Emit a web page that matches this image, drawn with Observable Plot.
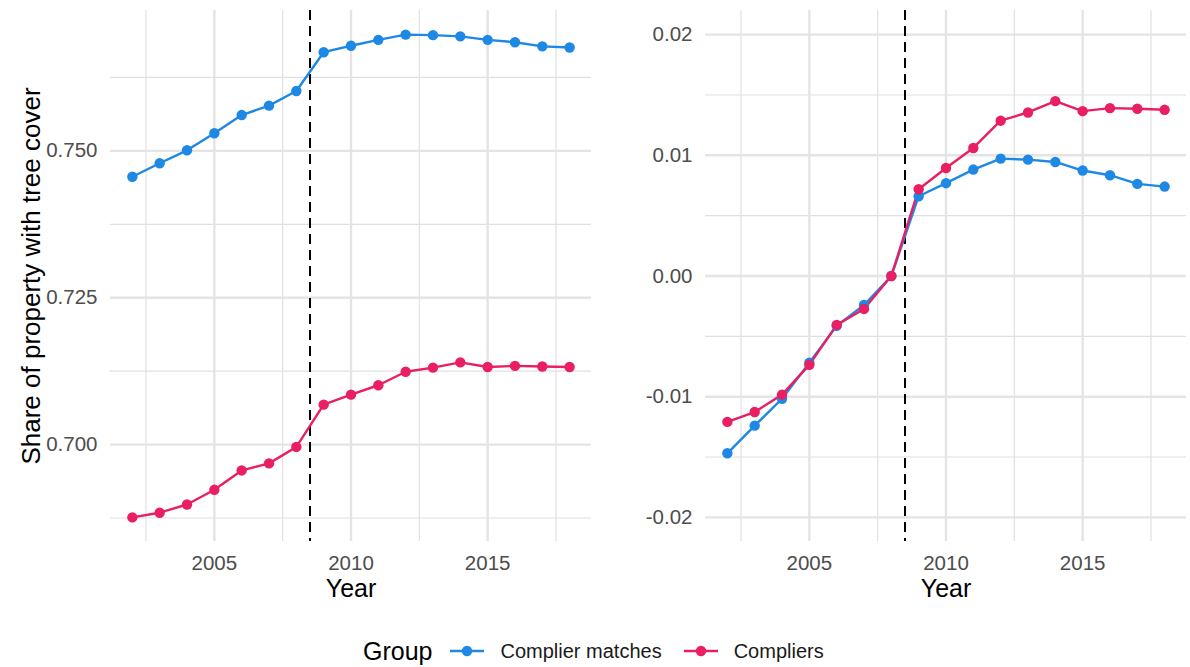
<!DOCTYPE html>
<html>
<head>
<meta charset="utf-8">
<script src="https://cdn.jsdelivr.net/npm/d3@7"></script>
<script src="https://cdn.jsdelivr.net/npm/@observablehq/plot@0.6"></script>
<style>
  body { margin: 0; background: #fff; font-family: "Liberation Sans", Arial, sans-serif; }
  #chart { position: relative; width: 1190px; height: 667px; background: #fff; }
  .panel { position: absolute; top: 0; }
  #legend { position: absolute; top: 632px; left: 363px; height: 38px; display: flex; align-items: center; white-space: nowrap; }
  #legend .title { font-size: 25px; color: #000; margin-right: 18px; }
  #legend .key { display: block; margin-right: 16px; }
  #legend .lab { font-size: 20px; color: #1a1a1a; margin-right: 22px; }
</style>
</head>
<body>
<div id="chart">
  <div id="left" class="panel" style="left:0"></div>
  <div id="right" class="panel" style="left:595px"></div>
  <div id="legend"></div>
</div>
<script>
// Years observed
const years = [2002, 2003, 2004, 2005, 2006, 2007, 2008, 2009, 2010, 2011, 2012, 2013, 2014, 2015, 2016, 2017, 2018];

// Groups and their colours
const groups = ["Complier matches", "Compliers"];
const groupColors = ["#1E88E5", "#E91E63"];

// Share of property with tree cover (levels)
const matchesShare   = [0.7456, 0.7479, 0.7501, 0.7530, 0.7561, 0.7577, 0.7602, 0.7668, 0.7679, 0.7689, 0.7698, 0.7697, 0.7695, 0.7689, 0.7685, 0.7678, 0.7676];
const compliersShare = [0.6876, 0.6884, 0.6898, 0.6923, 0.6956, 0.6968, 0.6996, 0.7068, 0.7085, 0.7101, 0.7124, 0.7131, 0.7140, 0.7132, 0.7134, 0.7133, 0.7132];

// Change relative to 2008
const matchesChange   = [-0.01469, -0.01240, -0.01017, -0.00719, -0.00413, -0.00240, 0.0, 0.00661, 0.00769, 0.00882, 0.00973, 0.00964, 0.00945, 0.00874, 0.00835, 0.00763, 0.00741];
const compliersChange = [-0.01209, -0.01127, -0.00983, -0.00736, -0.00405, -0.00273, 0.0, 0.00719, 0.00895, 0.01061, 0.01287, 0.01355, 0.01449, 0.01366, 0.01391, 0.01386, 0.01377];

// Program start marker
const treatmentYear = 2008.5;

// Grid / tick positions
const xMajor = [2005, 2010, 2015];
const xMinor = [2002.5, 2007.5, 2012.5, 2017.5];
const shareMajor = [0.700, 0.725, 0.750];
const shareMinor = [0.6875, 0.7125, 0.7375, 0.7625];
const changeMajor = [-0.02, -0.01, 0.00, 0.01, 0.02];
const changeMinor = [-0.015, -0.005, 0.005, 0.015];

function rows(a, b) {
  const out = [];
  years.forEach((yr, i) => out.push({year: yr, value: a[i], group: groups[0]}));
  years.forEach((yr, i) => out.push({year: yr, value: b[i], group: groups[1]}));
  return out;
}

function panel({data, yDomain, yMajor, yMinor, fmt, yLabel}) {
  const marks = [
    Plot.ruleY(yMinor, {stroke: "#e0e0e0", strokeWidth: 1.2}),
    Plot.ruleX(xMinor, {stroke: "#e0e0e0", strokeWidth: 1.2}),
    Plot.ruleY(yMajor, {stroke: "#e4e4e4", strokeWidth: 2.4}),
    Plot.ruleX(xMajor, {stroke: "#e4e4e4", strokeWidth: 2.4}),
    Plot.axisX({ticks: xMajor, tickSize: 0, tickPadding: 14, tickFormat: d => String(d), label: null, fill: "#4d4d4d"}),
    Plot.axisY({ticks: yMajor, tickSize: 0, tickPadding: 13, tickFormat: fmt, label: null, fill: "#4d4d4d"}),
    Plot.ruleX([treatmentYear], {stroke: "#000", strokeWidth: 2, strokeDasharray: "10,6"}),
    Plot.line(data, {x: "year", y: "value", z: "group", stroke: "group", strokeWidth: 2.4}),
    Plot.dot(data, {x: "year", y: "value", fill: "group", r: 5.2}),
    Plot.text(["Year"], {frameAnchor: "bottom", lineAnchor: "middle", dy: 47, fontSize: 25, fill: "#000"})
  ];
  if (yLabel) {
    marks.push(Plot.text([yLabel], {frameAnchor: "left", textAnchor: "middle", lineAnchor: "middle", dx: -79, rotate: -90, fontSize: 26, fill: "#000"}));
  }
  return Plot.plot({
    width: 595,
    height: 610,
    marginLeft: 110,
    marginRight: 4,
    marginTop: 10,
    marginBottom: 69,
    style: {fontFamily: "'Liberation Sans', Arial, sans-serif", fontSize: "20.5px", background: "transparent", overflow: "visible"},
    x: {domain: [2001.2, 2018.8], axis: null},
    y: {domain: yDomain, axis: null},
    color: {domain: groups, range: groupColors},
    marks
  });
}

document.getElementById("left").appendChild(panel({
  data: rows(matchesShare, compliersShare),
  yDomain: [0.6835, 0.7739],
  yMajor: shareMajor,
  yMinor: shareMinor,
  fmt: d => d.toFixed(3),
  yLabel: "Share of property with tree cover"
}));

document.getElementById("right").appendChild(panel({
  data: rows(matchesChange, compliersChange),
  yDomain: [-0.022, 0.022],
  yMajor: changeMajor,
  yMinor: changeMinor,
  fmt: d => d.toFixed(2),
  yLabel: null
}));

// Legend
const legend = d3.select("#legend");
legend.append("span").attr("class", "title").text("Group");
groups.forEach((g, i) => {
  const key = legend.append("svg").attr("class", "key").attr("width", 34).attr("height", 14);
  key.append("line").attr("x1", 0).attr("x2", 34).attr("y1", 7).attr("y2", 7)
    .attr("stroke", groupColors[i]).attr("stroke-width", 2.4);
  key.append("circle").attr("cx", 17).attr("cy", 7).attr("r", 5.2).attr("fill", groupColors[i]);
  legend.append("span").attr("class", "lab").text(g);
});
</script>
</body>
</html>
